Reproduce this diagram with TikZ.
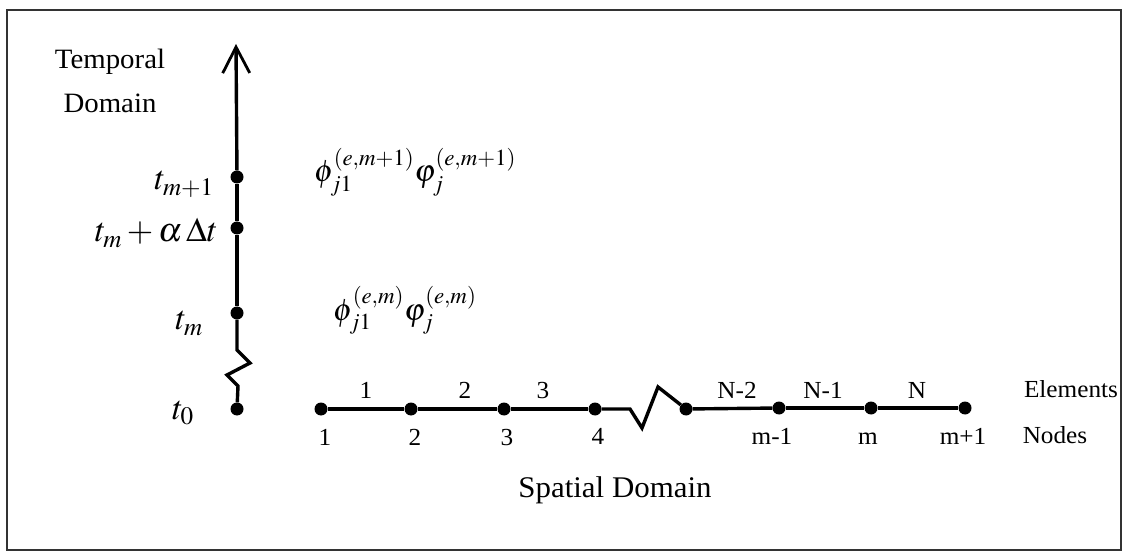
\documentclass[tikz,border=0pt]{standalone}
\usepackage{graphicx}
\usepackage{mathptmx}
\usepackage{fontspec}
\setmainfont[FakeStretch=1.03]{Liberation Serif}
\usetikzlibrary{arrows.meta}
\begin{document}
\begin{tikzpicture}[x=1pt,y=-1pt,
  dot/.style={circle,fill=black,inner sep=0pt,minimum size=13pt},
  ax/.style={line width=3.4pt,line join=miter},
  txt/.style={inner sep=0pt,font=\fontsize{24.5}{28}\selectfont},
  big/.style={inner sep=0pt,font=\fontsize{28}{44}\selectfont,align=center},
  mth/.style={inner sep=0pt,font=\fontsize{34}{40}\selectfont},
  phl/.style={inner sep=0pt,font=\fontsize{31}{38}\selectfont,anchor=base west},
]
\useasboundingbox (0,0) rectangle (1127,553);
\draw[line width=1.8pt,black!80] (7,10) rectangle (1121,550);

% temporal axis
\node[dot] (v0) at (237,409) {};
\node[dot] (vm) at (237,313) {};
\node[dot] (va) at (237,228) {};
\node[dot] (vm1) at (237,177) {};
\coordinate (vtop) at (236,44);
\coordinate (z1) at (237,350);
\coordinate (z2) at (250,363);
\coordinate (z3) at (227,375);
\coordinate (z4) at (238,386);
\draw[ax] (v0) -- (z4) -- (z3) -- (z2) -- (z1) -- (vm);
\draw[ax] (vm) -- (va);
\draw[ax] (va) -- (vm1);
\draw[ax,-{Straight Barb[length=26pt,width=27pt,line width=2.8pt]}] (vm1) -- (vtop);

\node[big] (td) at (110,81) {Temporal\\Domain};

\node[mth,anchor=base east] (lm1) at (214,190) {$t_{m+1}$};
\node[mth,anchor=base east] (la) at (218,242) {$t_{m}+\alpha\,\Delta t$};
\node[mth,anchor=base east] (lm) at (203,330) {$t_{m}$};
\node[mth,anchor=base east] (l0) at (194,419) {$t_{0}$};

\node[phl] (p1) at (314,182) {$\phi_{j1}^{(e,m+1)}\varphi_{j}^{(e,m+1)}$};
\node[phl] (p2) at (333,320) {$\phi_{j1}^{(e,m)}\varphi_{j}^{(e,m)}$};

% spatial axis
\node[dot] (h1) at (321,409) {};
\node[dot] (h2) at (411,409) {};
\node[dot] (h3) at (504,409) {};
\node[dot] (h4) at (595,409) {};
\node[dot] (h5) at (686,409) {};
\node[dot] (h6) at (779,408) {};
\node[dot] (h7) at (871,408) {};
\node[dot] (h8) at (965,408) {};
\coordinate (s1) at (630,409);
\coordinate (s2) at (642,428);
\coordinate (s3) at (658,387);
\draw[ax] (h1) -- (h2);
\draw[ax] (h2) -- (h3);
\draw[ax] (h3) -- (h4);
\draw[ax] (h4) -- (s1) -- (s2) -- (s3) -- (h5);
\draw[ax] (h5) -- (h6);
\draw[ax] (h6) -- (h7);
\draw[ax] (h7) -- (h8);

\node[txt,anchor=base] (e1) at (366,398) {1};
\node[txt,anchor=base] (e2) at (465,398) {2};
\node[txt,anchor=base] (e3) at (543,398) {3};
\node[txt,anchor=base] (e4) at (737,398) {N-2};
\node[txt,anchor=base] (e5) at (823,398) {N-1};
\node[txt,anchor=base] (e6) at (917,398) {N};
\node[txt,anchor=base] (el) at (1071,397) {Elements};

\node[txt,anchor=base] (n1) at (325,445) {1};
\node[txt,anchor=base] (n2) at (415,445) {2};
\node[txt,anchor=base] (n3) at (507,445) {3};
\node[txt,anchor=base] (n4) at (598,444) {4};
\node[txt,anchor=base] (n5) at (772,444) {m-1};
\node[txt,anchor=base] (n6) at (868,444) {m};
\node[txt,anchor=base] (n7) at (963,444) {m+1};
\node[txt,anchor=base] (nl) at (1055,443) {Nodes};

\node[big,anchor=base] (sd) at (615,497) {\fontsize{30}{36}\selectfont Spatial Domain};
\end{tikzpicture}
\end{document}
